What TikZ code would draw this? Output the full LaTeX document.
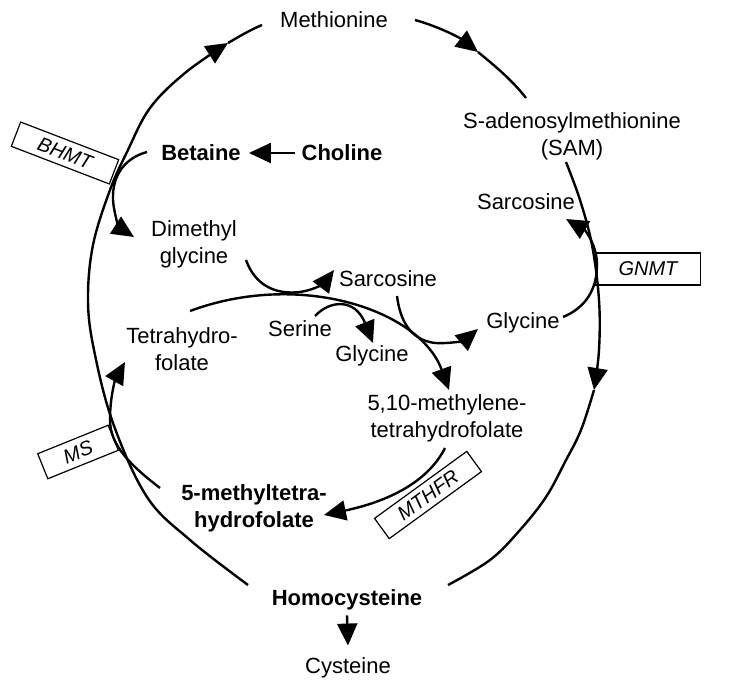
\documentclass[tikz,border=0pt]{standalone}
\usepackage{fontspec}
\setmainfont{Liberation Sans}
\usetikzlibrary{arrows.meta}
\begin{document}
\begin{tikzpicture}[x=1pt,y=-1pt,
  lbl/.style={font=\fontsize{22}{27}\selectfont, inner sep=0pt, align=center},
  blbl/.style={font=\fontsize{22}{27}\selectfont\bfseries, inner sep=0pt, align=center},
  enz/.style={draw, fill=white, line width=1.2pt, font=\fontsize{20}{24}\selectfont\itshape, minimum height=26pt, inner sep=0pt},
  tri/.tip={Triangle[length=22pt,width=20pt]},
  conn/.style={line width=2.4pt, -tri},
  pathline/.style={line width=2.4pt}
]
\useasboundingbox (0,0) rectangle (747,685);

% enzyme boxes
\node[enz, minimum width=105pt, rotate=-21] (bhmt) at (65,153) {BHMT};
\node[enz, minimum width=76pt, minimum height=27pt, rotate=22] (ms) at (78,452) {MS};
\node[enz, minimum width=114pt, minimum height=25pt, rotate=36] (mthfr) at (428,495) {MTHFR};
\node[enz, minimum width=105pt, minimum height=32pt] (gnmt) at (648,269) {GNMT};

% metabolites
\node[lbl] (met) at (334,20) {Methionine};
\node[lbl] (sam) at (572,136) {S-adenosylmethionine\\(SAM)};
\node[blbl] (bet) at (201,153) {Betaine};
\node[blbl] (cho) at (342,153) {Choline};
\node[lbl] (dmg) at (194,244) {Dimethyl\\glycine};
\node[lbl] (sar1) at (526,202) {Sarcosine};
\node[lbl] (sar2) at (388,279) {Sarcosine};
\node[lbl] (ser) at (300,329) {Serine};
\node[lbl] (gly2) at (372,356) {Glycine};
\node[lbl] (gly1) at (523,323) {Glycine};
\node[lbl] (thf) at (182,349) {Tetrahydro-\\folate};
\node[lbl] (mthf) at (447,418) {5,10-methylene-\\tetrahydrofolate};
\node[blbl] (fmthf) at (254,508) {5-methyltetra-\\hydrofolate};
\node[blbl] (hcy) at (347,600) {Homocysteine};
\node[lbl] (cys) at (348,668) {Cysteine};

% main cycle
\coordinate (lt) at (228,43);
\coordinate (mt) at (478,52);
\coordinate (rt) at (594,390);
\draw[conn] plot[smooth, tension=0.6] coordinates {(248,585) (190,540) (147,497) (113,423) (94,350) (88,300) (93,245) (110,190) (127,152) (150,108) (185,73) (228,43)};
\draw[pathline] (lt) .. controls (240,36) and (250,30) .. (262,25);
\draw[conn] (415,20) .. controls (440,27) and (460,38) .. (mt);
\draw[pathline] (mt) .. controls (495,66) and (512,80) .. (526,98);
\draw[conn] plot[smooth, tension=0.6] coordinates {(566,162) (580,200) (592,245) (599,300) (599,350) (594,390)};
\draw[pathline] plot[smooth, tension=0.6] coordinates {(594,390) (581,430) (565,462) (546,497) (520,530) (490,560) (448,585)};

% side reactions
\draw[conn] ([xshift=-6pt]cho.west) -- ([xshift=8pt]bet.east);
\draw[conn] ([yshift=-5pt]hcy.south) -- ([yshift=12pt]cys.north);
\draw[conn] (147,152) .. controls (125,158) and (112,175) .. (113,200) .. controls (114,215) and (120,228) .. (134,237);
\draw[conn] (160,488) .. controls (130,465) and (110,445) .. (110,420) .. controls (110,395) and (116,378) .. (125,362);
\draw[conn] (445,448) .. controls (430,478) and (395,500) .. (324,515);
\draw[conn] (563,317) .. controls (585,308) and (597,290) .. (597,265) .. controls (597,245) and (585,230) .. (566,219);

% folate crossing reactions
\draw[conn] (190,311) .. controls (300,270) and (420,310) .. (449,390);
\draw[conn] (246,260) .. controls (255,285) and (275,295) .. (300,292) .. controls (315,290) and (325,282) .. (334,270);
\draw[conn] (315,316) .. controls (330,300) and (355,298) .. (373,343);
\draw[conn] (397,296) .. controls (400,320) and (410,340) .. (435,343) .. controls (450,344) and (465,340) .. (478,329);
\end{tikzpicture}
\end{document}
